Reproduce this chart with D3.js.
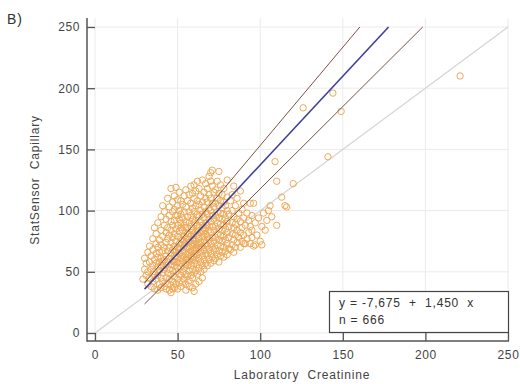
<!DOCTYPE html>
<html>
<head>
<meta charset="utf-8">
<script src="https://cdn.jsdelivr.net/npm/d3@7"></script>
<style>
  body { margin: 0; background: #fff; }
  text { font-family: "Liberation Sans", Arial, sans-serif; }
</style>
</head>
<body>
<div id="chart"></div>
<script>
'use strict';

// Tick values for both axes
const xTicks = [0, 50, 100, 150, 200, 250];
const yTicks = [0, 50, 100, 150, 200, 250];

// Fitted line and its two band lines (intercept, slope)
const fitLines = [
    { name: 'upper', a: -7.3, b: 1.605 },
    { name: 'fit', a: -7.675, b: 1.450 },
    { name: 'lower', a: -16.6, b: 1.344 }
];
const fitRange = [30, 250];

const legendLines = ['y = -7,675  +  1,450  x', 'n = 666'];

// Laboratory creatinine (x) vs StatSensor capillary (y)
const points = [
    [29,44],[30,52],[30,61],[31,47],[31,57],[32,40],[32,66],[32,50],
    [33,45],[33,58],[33,71],[34,38],[34,52],[34,63],[35,42],[35,48],[35,55],[35,68],[35,77],[36,36],
    [36,60],[36,50],[37,44],[37,57],[37,65],[37,73],[37,81],[36,86],
    [38,35],[38,47],[38,54],[38,62],[38,70],[38,90],[39,40],[39,51],[39,58],[39,66],[39,76],[40,37],
    [40,45],[40,55],[40,61],[40,72],[40,84],[40,95],[41,42],[41,49],[41,58],[41,67],[41,79],[42,38],
    [42,52],[42,60],[42,70],[42,88],[42,99],[41,104],
    [43,36],[43,45],[43,55],[43,63],[43,74],[43,82],[43,93],[44,40],[44,49],[44,58],[44,67],[44,77],
    [44,86],[44,110],[45,35],[45,44],[45,52],[45,61],[45,70],[45,80],[45,96],[45,103],[46,39],[46,48],
    [46,56],[46,65],[46,74],[46,84],[46,91],[46,118],[47,42],[47,51],[47,59],[47,68],[47,78],[47,88],
    [47,99],[47,107],[46,33],[47,36],
    [48,37],[48,46],[48,55],[48,63],[48,71],[48,81],[48,92],[48,101],[48,112],[49,40],[49,50],[49,58],
    [49,66],[49,75],[49,85],[49,96],[49,119],[50,36],[50,44],[50,53],[50,62],[50,70],[50,79],[50,88],
    [50,104],[50,109],[51,41],[51,48],[51,57],[51,65],[51,73],[51,83],[51,93],[51,100],[51,115],[52,38],
    [52,47],[52,54],[52,61],[52,69],[52,77],[52,86],[52,97],[52,108],[50,96],[49,63],[51,69],[52,90],
    [48,58],[50,58],
    [53,41],[53,50],[53,59],[53,67],[53,76],[53,84],[53,94],[53,105],[54,44],[54,53],[54,62],[54,71],
    [54,79],[54,88],[54,99],[54,112],[55,40],[55,48],[55,56],[55,64],[55,73],[55,82],[55,91],[55,103],
    [55,117],[56,46],[56,55],[56,60],[56,69],[56,77],[56,86],[56,95],[56,108],[57,43],[57,51],[57,58],
    [57,66],[57,74],[57,81],[57,90],[57,99],[57,113],[53,63],[54,75],[55,86],[56,64],[57,70],[53,72],
    [55,60],[56,81],[55,35],[57,38],
    [58,47],[58,55],[58,63],[58,71],[58,79],[58,87],[58,96],[58,106],[58,120],[59,45],[59,52],[59,60],
    [59,68],[59,76],[59,84],[59,93],[59,102],[59,114],[60,49],[60,57],[60,65],[60,73],[60,81],[60,90],
    [60,99],[60,110],[60,121],[61,51],[61,59],[61,67],[61,75],[61,83],[61,92],[61,104],[61,116],[62,48],
    [62,56],[62,64],[62,72],[62,80],[62,88],[62,97],[62,108],[62,124],[58,67],[59,72],[60,77],[61,70],
    [62,84],[60,62],[59,37],[61,40],[60,34],
    [63,53],[63,61],[63,69],[63,77],[63,86],[63,95],[63,105],[63,118],[64,50],[64,58],[64,66],[64,74],
    [64,82],[64,91],[64,100],[64,112],[65,55],[65,63],[65,71],[65,79],[65,88],[65,97],[65,107],[65,125],
    [66,52],[66,60],[66,68],[66,76],[66,85],[66,94],[66,103],[66,115],[67,57],[67,65],[67,73],[67,81],
    [67,90],[67,99],[67,110],[67,122],[64,70],[65,84],[66,79],[63,73],[67,86],[63,42],[65,45],
    [68,55],[68,63],[68,71],[68,79],[68,88],[68,97],[68,107],[68,118],[69,60],[69,68],[69,76],[69,84],
    [69,93],[69,102],[69,113],[69,128],[70,57],[70,65],[70,73],[70,82],[70,91],[70,100],[70,110],[70,131],
    [71,62],[71,70],[71,78],[71,87],[71,96],[71,106],[71,120],[72,59],[72,67],[72,75],[72,84],[72,93],
    [72,103],[72,115],[71,133],[70,124],
    [73,61],[73,69],[73,78],[73,87],[73,96],[73,106],[73,117],[74,64],[74,72],[74,81],[74,90],[74,99],
    [74,110],[74,124],[75,58],[75,67],[75,76],[75,85],[75,94],[75,104],[75,114],[75,132],[76,63],[76,71],
    [76,80],[76,89],[76,98],[76,108],[76,121],[77,66],[77,75],[77,84],[77,93],[77,102],[77,113],
    [78,62],[78,70],[78,79],[78,88],[78,97],[78,107],[78,118],[79,67],[79,76],[79,85],[79,94],[79,104],
    [80,64],[80,73],[80,82],[80,91],[80,100],[80,111],[80,125],[81,69],[81,78],[81,87],[81,97],[82,68],
    [82,108],
    [83,72],[83,81],[83,90],[83,100],[83,113],[84,66],[84,76],[84,86],[84,95],[84,120],[85,70],[85,80],
    [85,89],[85,104],[86,74],[86,84],[86,93],[86,110],[87,78],[87,98],
    [88,70],[88,82],[88,91],[88,116],[89,75],[89,86],[89,101],[90,73],[90,80],[90,94],[90,106],[91,73],
    [91,88],[92,77],[92,98],
    [93,82],[93,92],[94,73],[94,87],[94,106],[95,78],[95,96],[96,71],[96,106],[97,72],[97,90],[95,84],
    [98,80],[99,94],[100,75],[101,72],[101,87],[102,98],[103,84],[104,92],[105,100],
    [106,104],[107,95],[109,140],[110,124],[110,88],[113,111],[115,104],[116,103],[120,122],
    [126,184],[141,144],[144,196],[149,181],[221,210]
];

const width = 520;
const height = 384;

const svg = d3.select('#chart').append('svg')
    .attr('width', width)
    .attr('height', height)
    .style('background', '#fff');

const x = d3.scaleLinear().domain([0, 250]).range([95, 508]);
const y = d3.scaleLinear().domain([0, 250]).range([333, 27]);

const axisX = 87;   // y axis line position (offset from x=0)
const axisY = 341;  // x axis line position (offset from y=0)
const plotTop = 18;
const plotRight = 509;

// grid
const grid = svg.append('g').attr('class', 'grid');
grid.selectAll('.vgrid').data(xTicks).enter().append('line')
    .attr('x1', d => x(d)).attr('x2', d => x(d))
    .attr('y1', plotTop).attr('y2', axisY)
    .attr('stroke', '#ebebeb').attr('stroke-width', 1);
grid.selectAll('.hgrid').data(yTicks).enter().append('line')
    .attr('x1', axisX).attr('x2', plotRight)
    .attr('y1', d => y(d)).attr('y2', d => y(d))
    .attr('stroke', '#ebebeb').attr('stroke-width', 1);

// identity line
svg.append('line')
    .attr('x1', x(0)).attr('y1', y(0))
    .attr('x2', x(250)).attr('y2', y(250))
    .attr('stroke', '#d4d4d4').attr('stroke-width', 1.2);

// points
svg.append('g').selectAll('circle').data(points).enter().append('circle')
    .attr('cx', d => x(d[0]))
    .attr('cy', d => y(d[1]))
    .attr('r', 3.2)
    .attr('fill', 'none')
    .attr('stroke', '#eeaa58')
    .attr('stroke-width', 1);

// fitted lines
const lineColor = { upper: '#7a5048', fit: '#3f3f9c', lower: '#7a5048' };
fitLines.forEach(function(l) {
    const xEnd = Math.min(fitRange[1], (250 - l.a) / l.b);
    svg.append('line')
        .attr('x1', x(fitRange[0])).attr('y1', y(l.a + l.b * fitRange[0]))
        .attr('x2', x(xEnd)).attr('y2', y(l.a + l.b * xEnd))
        .attr('stroke', lineColor[l.name])
        .attr('stroke-width', l.name == 'fit' ? 1.6 : 1);
});

// axes
const yAxis = d3.axisLeft(y).tickValues(yTicks).tickSizeInner(-8).tickSizeOuter(0).tickPadding(7);
const xAxis = d3.axisBottom(x).tickValues(xTicks).tickSizeInner(-8).tickSizeOuter(0).tickPadding(9);

const gy = svg.append('g').attr('transform', `translate(${axisX},0)`).call(yAxis);
const gx = svg.append('g').attr('transform', `translate(0,${axisY})`).call(xAxis);
[gx, gy].forEach(function(g) {
    g.select('.domain').remove();
    g.selectAll('.tick line').attr('stroke', '#555').attr('stroke-width', 1.3);
    g.selectAll('.tick text').attr('fill', '#444')
        .style('font-size', '12px').style('letter-spacing', '0.6px');
});

svg.append('line')
    .attr('x1', axisX).attr('x2', axisX)
    .attr('y1', plotTop).attr('y2', axisY + 0.7)
    .attr('stroke', '#555').attr('stroke-width', 1.5);
svg.append('line')
    .attr('x1', axisX).attr('x2', plotRight)
    .attr('y1', axisY).attr('y2', axisY)
    .attr('stroke', '#555').attr('stroke-width', 1.5);

// axis titles
svg.append('text')
    .attr('x', 302).attr('y', 379)
    .attr('text-anchor', 'middle')
    .style('font-size', '12px').style('white-space', 'pre').style('letter-spacing', '0.8px')
    .attr('fill', '#444')
    .text('Laboratory  Creatinine');

svg.append('text')
    .attr('transform', 'translate(39,180) rotate(-90)')
    .attr('text-anchor', 'middle')
    .style('font-size', '12px').style('white-space', 'pre').style('letter-spacing', '0.8px')
    .attr('fill', '#444')
    .text('StatSensor  Capillary');

svg.append('text')
    .attr('x', 7).attr('y', 24)
    .style('font-size', '14px').style('letter-spacing', '1px')
    .attr('fill', '#333')
    .text('B)');

// legend box
const legend = svg.append('g');
legend.append('rect')
    .attr('x', 329.5).attr('y', 291.5)
    .attr('width', 179).attr('height', 41)
    .attr('fill', '#fff')
    .attr('stroke', '#444').attr('stroke-width', 1.2);
legend.selectAll('text').data(legendLines).enter().append('text')
    .attr('x', 339)
    .attr('y', (d, i) => 307 + i * 17)
    .style('font-size', '12px').style('white-space', 'pre').style('letter-spacing', '0.8px')
    .attr('fill', '#333')
    .text(d => d);
</script>
</body>
</html>
